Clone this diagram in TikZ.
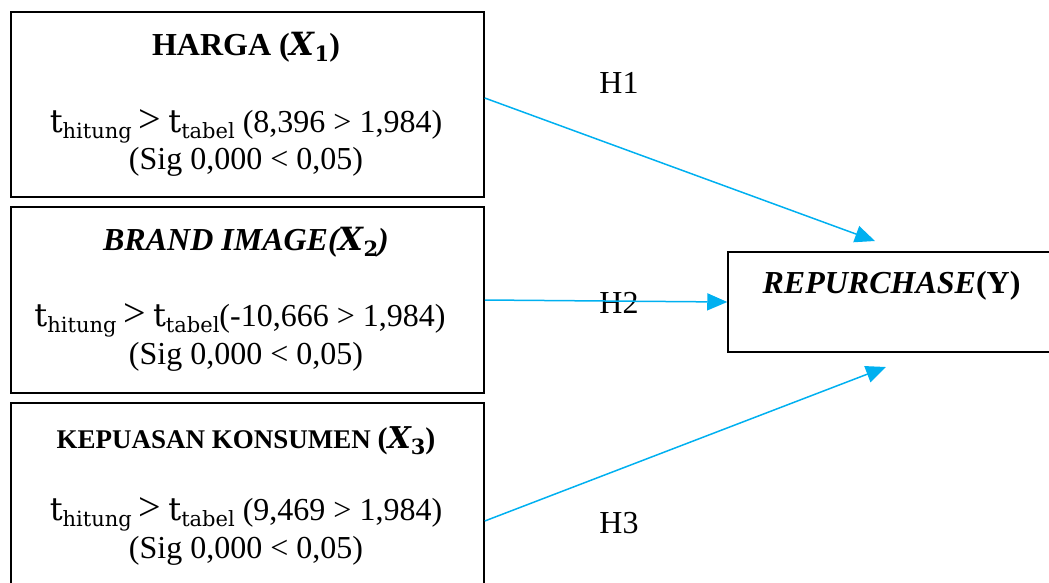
\documentclass[tikz,border=0pt]{standalone}
\usepackage{fontspec}
\setmainfont{Liberation Serif}
\newfontfamily\cmb{DejaVu Serif}
\usetikzlibrary{arrows.meta}
\definecolor{arr}{RGB}{0,176,240}
% t with subscript, Cambria-like
\newcommand\tsubx[1]{{\cmb t\raisebox{-6pt}{\fontsize{21}{22}\selectfont #1}}}
\newcommand\tcomp{\tsubx{hitung}\hspace{7pt}{\fontsize{40}{40}\selectfont >}\hspace{7pt}\tsubx{tabel}}
\newcommand\xvar[1]{{\cmb\bfseries\itshape X\raisebox{-6pt}{\fontsize{21}{22}\selectfont\upshape #1}}}
\begin{document}
\begin{tikzpicture}[x=1pt,y=-1pt,
  box/.style={draw, line width=1.5pt, inner sep=0pt},
  txt/.style={anchor=base, inner sep=0pt, font=\fontsize{32}{38}\selectfont},
  small/.style={anchor=base, inner sep=0pt, font=\fontsize{27}{32}\selectfont},
  conn/.style={draw=arr, line width=1.5pt, -{Triangle[length=20pt,width=17pt]}}]
\useasboundingbox (0,0) rectangle (1049,582);
% boxes
\node[box, minimum width=473pt, minimum height=185pt] (b1) at (247.5,104.5) {};
\node[box, minimum width=473pt, minimum height=186pt] (b2) at (247.5,300) {};
\node[box, minimum width=473pt, minimum height=190pt] (b3) at (247.5,498) {};
\node[box, minimum width=330pt, minimum height=100pt] (y) at (893,302) {};
% box 1 texts
\node[txt] (t1) at (246,55) {\textbf{HARGA (\xvar{1})}};
\node[txt] (t1a) at (246,132) {\tcomp{} (8,396 > 1,984)};
\node[txt] (t1b) at (246,169) {(Sig 0,000 < 0,05)};
% box 2 texts
\node[txt] (t2) at (246,250) {\textbf{\textit{BRAND IMAGE(\xvar{2})}}};
\node[txt] (t2a) at (240,326) {\tcomp(-10,666 > 1,984)};
\node[txt] (t2b) at (246,364) {(Sig 0,000 < 0,05)};
% box 3 texts
\node[small] (t3) at (246,448) {\textbf{KEPUASAN KONSUMEN {\fontsize{30}{32}\selectfont(\xvar{3})}}};
\node[txt] (t3a) at (246,520) {\tcomp{} (9,469 > 1,984)};
\node[txt] (t3b) at (246,558) {(Sig 0,000 < 0,05)};
% Y text
\node[txt] (ty) at (891.5,293) {\textbf{\textit{REPURCHASE}(Y)}};
% hypothesis labels
\node[txt] (h1) at (619,93) {H1};
\node[txt] (h2) at (619,313) {H2};
\node[txt] (h3) at (619,533) {H3};
% connectors
\coordinate (e1) at (875,241);
\coordinate (e3) at (886,367);
\draw[conn] ([yshift=6.5pt]b1.east) -- (e1);
\draw[conn] (b2.east) -- (y.west);
\draw[conn] ([yshift=-23pt]b3.east) -- (e3);
\end{tikzpicture}
\end{document}
